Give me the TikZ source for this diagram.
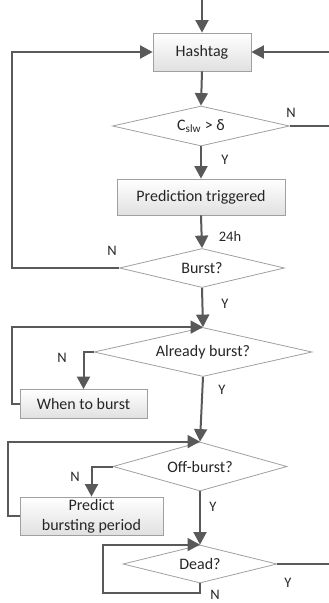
\documentclass[tikz,border=0pt]{standalone}
\usepackage{fontspec}
\setmainfont{Carlito}
\usetikzlibrary{shapes.geometric,arrows.meta}
\definecolor{lc}{HTML}{595959}
\definecolor{bc}{HTML}{A0A0A0}
\definecolor{tc}{HTML}{262626}
\begin{document}
\begin{tikzpicture}[x=1pt,y=-1pt,
  box/.style={draw=bc, line width=0.8pt, top color=white, bottom color=black!12,
    inner sep=0pt, text=tc, font=\fontsize{16}{20}\selectfont, align=center},
  dia/.style={diamond, aspect=4, draw=bc, line width=0.8pt, fill=white,
    inner sep=0pt, text=tc, font=\fontsize{16}{20}\selectfont},
  conn/.style={draw=lc, line width=2pt},
  arr/.style={conn, -{Triangle[length=12.5pt,width=13pt]}},
  lbl/.style={text=tc, font=\fontsize{14.5}{17}\selectfont, inner sep=0pt}]
\useasboundingbox (0,0) rectangle (329,603);

\coordinate (start) at (202,-5);
\node[box, minimum width=98pt, minimum height=38pt] (hash) at (202,52) {Hashtag};
\node[dia, minimum width=177pt, minimum height=40pt] (csw) at (201,126) {C\textsubscript{slw} > δ};
\node[box, minimum width=168pt, minimum height=36pt] (pred) at (201,197) {Prediction triggered};
\node[dia, minimum width=165pt, minimum height=39pt] (burst) at (202,268) {Burst?};
\node[dia, minimum width=218pt, minimum height=49pt] (already) at (203,352) {Already burst?};
\node[box, minimum width=127pt, minimum height=29pt] (wtb) at (83.5,404) {When to burst};
\node[dia, minimum width=174pt, minimum height=49pt] (off) at (200,466.5) {Off-burst?};
\node[box, minimum width=143pt, minimum height=38pt] (pbp) at (91.5,516) {Predict\\bursting period};
\node[dia, minimum width=154pt, minimum height=38pt] (dead) at (200,564) {Dead?};

\coordinate (r1) at (335,126);
\coordinate (l1) at (12,268);
\coordinate (l2) at (12,404);
\coordinate (l3) at (8,516);
\coordinate (dl) at (103,593);
\coordinate (r2) at (335,564);

\draw[arr] (start) -- (hash.north);
\draw[arr] (hash.south) -- (csw.north);
\draw[arr] (csw.east) -- (r1) |- (hash.east);
\draw[arr] (csw.south) -- (pred.north);
\draw[arr] (pred.south) -- (burst.north);
\draw[arr] (burst.west) -- (l1) |- (hash.west);
\draw[arr] (burst.south) -- (already.north);
\draw[arr] (already.west) -| (wtb.north);
\draw[arr] (wtb.west) -- (l2) |- (already.north);
\draw[arr] (already.south) -- (off.north);
\draw[arr] (off.west) -| (pbp.north);
\draw[arr] (pbp.west) -- (l3) |- (off.north);
\draw[arr] (off.south) -- (dead.north);
\draw[arr] (dead.south) |- (dl) |- (dead.north);
\draw[conn] (dead.east) -- (r2);

\node[lbl] (n1) at (291,113) {N};
\node[lbl] (y1) at (225,160) {Y};
\node[lbl] (h24) at (230,236) {24h};
\node[lbl] (n2) at (112,251) {N};
\node[lbl] (y2) at (225,304) {Y};
\node[lbl] (n3) at (62,358) {N};
\node[lbl] (y3) at (222,390) {Y};
\node[lbl] (n4) at (75,477) {N};
\node[lbl] (y4) at (213,507) {Y};
\node[lbl] (n5) at (215,595) {N};
\node[lbl] (y5) at (288,583) {Y};
\end{tikzpicture}
\end{document}
